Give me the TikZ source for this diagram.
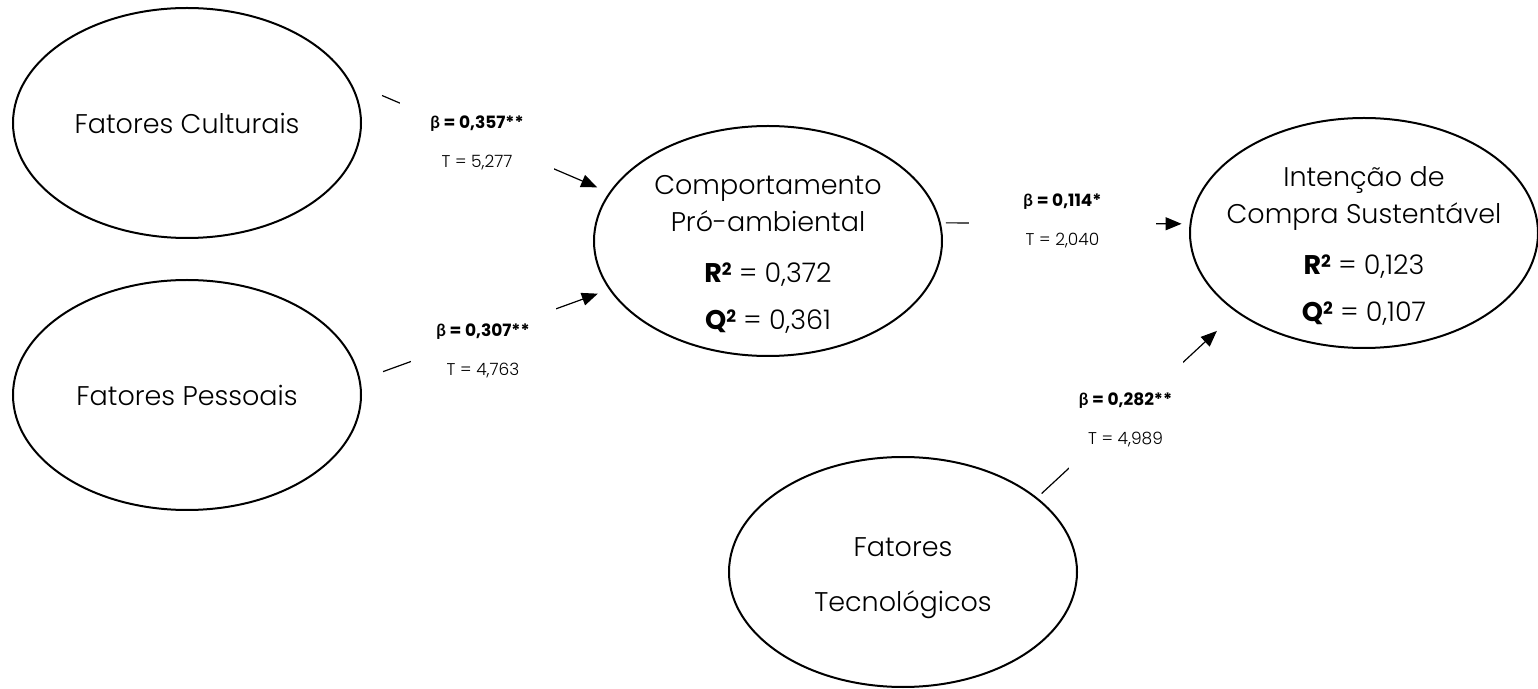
\documentclass[tikz,border=0pt]{standalone}
\usepackage{fontspec}
\setmainfont{Poppins}[UprightFont=* Light, BoldFont=* Bold]
\newfontfamily\gregofont{Lato}
\usetikzlibrary{arrows.meta,shapes.geometric,positioning}

\newcommand{\supdois}{\raisebox{0.26em}{\fontsize{8.5}{8.5}\selectfont 2}}

\begin{document}
\begin{tikzpicture}[x=0.5pt, y=-0.5pt]

	\tikzstyle{elipse}=[ellipse, draw, line width=1pt, minimum width=174pt, minimum height=115pt, inner sep=0pt]
	\tikzstyle{texto}=[align=center, font=\fontsize{13.5}{18.5}\selectfont]
	\tikzstyle{coef}=[fill=white, inner sep=0pt, align=center, font=\fontsize{8.5}{19.5}\selectfont]
	\tikzstyle{seta}=[-{Triangle[length=8pt, width=6.5pt]}, line width=0.6pt]

	\useasboundingbox (0,0) rectangle (1538,689);

	\coordinate (f_cult) at (187, 123); % EXOGENAS
	\coordinate (f_pess) at (187, 395); % EXOGENAS
	\coordinate (f_tec) at (903, 572); % EXOGENAS
	\coordinate (f_comp) at (768, 241); % MEDIADORA
	\coordinate (f_int) at (1364, 233); % DEPENDENTE

	\node[elipse] (f_cult) at (f_cult) {};
	\node[elipse] (f_pess) at (f_pess) {};
	\node[elipse] (f_tec) at (f_tec) {};
	\node[elipse] (f_comp) at (f_comp) {};
	\node[elipse] (f_int) at (f_int) {};

	\node[texto] (t_cult) at (f_cult) {Fatores Culturais};
	\node[texto] (t_pess) at (f_pess) {Fatores Pessoais};
	\node[texto, yshift=-3pt] (t_tec) at (f_tec) {Fatores\\[9pt]Tecnológicos};
	\node[texto, yshift=-6.5pt] (t_comp) at (f_comp) {Comportamento\\Pró-ambiental\\[7pt]\textbf{R\supdois} = 0,372\\[5pt]\textbf{Q\supdois} = 0,361};
	\node[texto, yshift=-6.5pt] (t_int) at (f_int) {Intenção de\\Compra Sustentável\\[7pt]\textbf{R\supdois} = 0,123\\[5pt]\textbf{Q\supdois} = 0,107};

	\draw[seta, shorten <=17pt, shorten >=6.5pt] (f_cult.14) -- (f_comp.163);
	\draw[seta, shorten <=12pt, shorten >=6pt] (f_pess.5) -- (f_comp.197);
	\draw[seta, shorten <=2.5pt, shorten >=4pt] (f_comp.6) -- (f_int.177);
	\draw[seta, shorten <=3pt, shorten >=13.5pt] (f_tec.29) -- (f_int.212);

	\node[coef, minimum width=77pt, minimum height=41pt] (w_cult) at (477, 142.5) {\textbf{{\gregofont β} = 0,357**}\\T = 5,277};
	\node[coef, minimum width=72.5pt, minimum height=44pt] (w_pess) at (483, 351) {\textbf{{\gregofont β} = 0,307**}\\T = 4,763};
	\node[coef, minimum width=93.5pt, minimum height=30pt] (w_comp) at (1062.5, 221) {\textbf{{\gregofont β} = 0,114*}\\T = 2,040};
	\node[coef, minimum width=57pt, minimum height=59pt] (w_tec) at (1125.5, 419.5) {\textbf{{\gregofont β} = 0,282**}\\T = 4,989};

\end{tikzpicture}
\end{document}
